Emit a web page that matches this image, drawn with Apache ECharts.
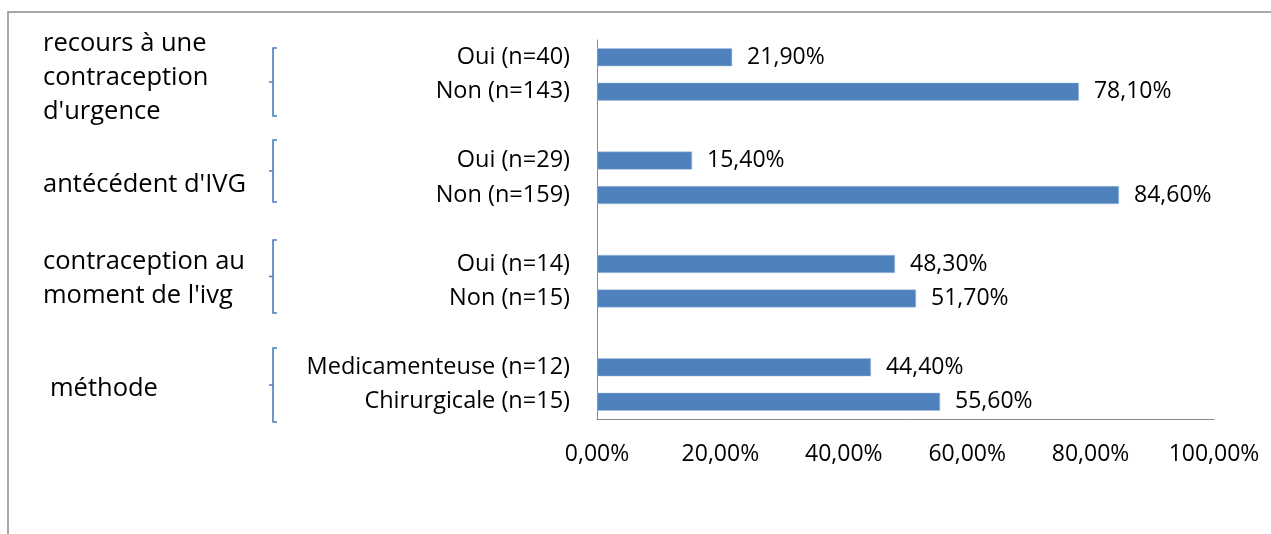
<!DOCTYPE html>
<html>
<head>
<meta charset="utf-8">
<script src="https://cdn.jsdelivr.net/npm/echarts@6/dist/echarts.min.js"></script>
<style>
  html, body { margin: 0; padding: 0; background: #fff; }
  #chart { width: 1271px; height: 534px; }
</style>
</head>
<body>
<div id="chart"></div>
<script>
// categories top to bottom, blank ones separate the groups
const categories = [
  'Oui (n=40)', 'Non (n=143)', ' ',
  'Oui (n=29)', 'Non (n=159)', '  ',
  'Oui (n=14)', 'Non (n=15)', '   ',
  'Medicamenteuse (n=12)', 'Chirurgicale (n=15)'
]
const values = [21.9, 78.1, null, 15.4, 84.6, null, 48.3, 51.7, null, 44.4, 55.6]
const xTicks = [0, 20, 40, 60, 80, 100]
const groupLabels = [
  'recours à une\ncontraception\nd\'urgence',
  'antécédent d\'IVG',
  'contraception au\nmoment de l\'ivg',
  'méthode'
]

const FONT = '"Open Sans", "Noto Sans", sans-serif'
const fmt = v => v.toFixed(2).replace('.', ',') + '%'

// bracket drawn as a thin blue "[" with a small tick in the middle
function bracket(x, y1, y2) {
  const mid = (y1 + y2) / 2
  return {
    type: 'polyline',
    shape: { points: [[x + 4, y1], [x, y1], [x, mid], [x - 4, mid], [x, mid], [x, y2], [x + 4, y2]] },
    style: { stroke: '#4a7ebb', lineWidth: 1.6, fill: null }
  }
}

function groupText(x, y, text) {
  return { type: 'text', x: x, y: y, style: { text: text, font: '25.5px ' + FONT, lineHeight: 34, fill: '#000' } }
}

const chart = echarts.init(document.getElementById('chart'))
chart.setOption({
  animation: false,
  grid: { left: 597, right: 57, top: 40, bottom: 115, containLabel: false },
  xAxis: {
    type: 'value',
    min: 0,
    max: 100,
    interval: 20,
    axisLine: { show: true, lineStyle: { color: '#898989', width: 1 } },
    axisTick: { show: false },
    splitLine: { show: false },
    axisLabel: {
      margin: 24,
      color: '#000',
      fontFamily: FONT,
      fontSize: 23,
      formatter: v => xTicks.indexOf(v) >= 0 ? fmt(v) : ''
    }
  },
  yAxis: {
    type: 'category',
    inverse: true,
    data: categories,
    axisLine: { show: true, lineStyle: { color: '#898989', width: 1 } },
    axisTick: { show: false },
    axisLabel: { margin: 27, color: '#000', fontFamily: FONT, fontSize: 23.5, interval: 0 }
  },
  series: [{
    type: 'bar',
    data: values,
    barWidth: 18,
    itemStyle: { color: '#4f81bd', borderColor: '#a7c0de', borderWidth: 0.5 },
    label: {
      show: true,
      position: 'right',
      distance: 15,
      color: '#000',
      fontFamily: FONT,
      fontSize: 23,
      formatter: p => fmt(p.value)
    }
  }],
  graphic: [
    {
      type: 'rect',
      shape: { x: 8, y: 12, width: 1400, height: 700 },
      style: { fill: null, stroke: '#8c8c8c', lineWidth: 1.5 },
      silent: true
    },
    groupText(43, 27, groupLabels[0]),
    groupText(43, 168, groupLabels[1]),
    groupText(43, 245, groupLabels[2]),
    groupText(50, 372, groupLabels[3]),
    bracket(273, 48, 116),
    bracket(273, 140, 202),
    bracket(273, 240, 313),
    bracket(273, 348, 422)
  ]
})
</script>
</body>
</html>
